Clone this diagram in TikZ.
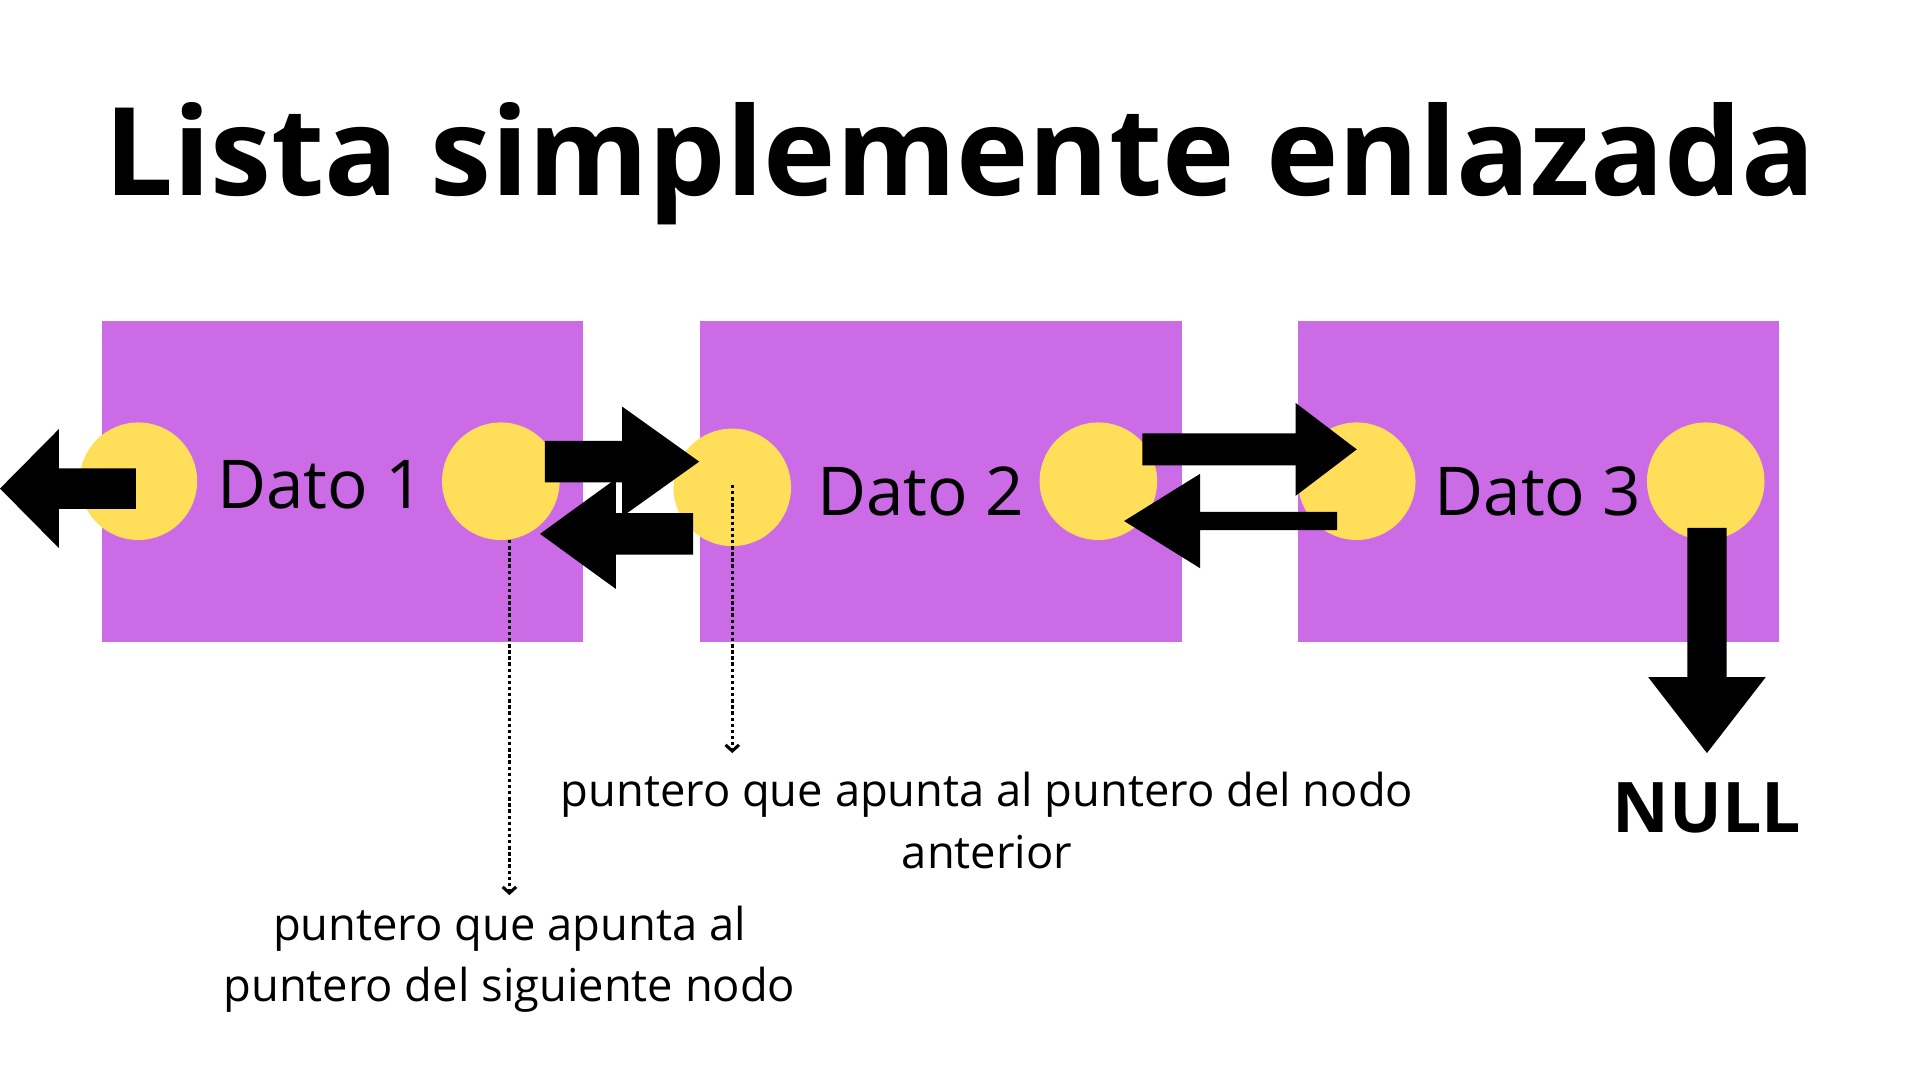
\documentclass[tikz,border=0pt]{standalone}
\usepackage{fontspec}
\setmainfont{Open Sans}
\usetikzlibrary{calc,arrows.meta}
\definecolor{boxpurple}{HTML}{CB6CE6}
\definecolor{dotyellow}{HTML}{FFDE59}
% horizontal block arrow: #1 start, #2 tip, #3 shaft half width, #4 head half width, #5 signed head length
\newcommand\hblockarrow[5]{%
  \fill[black] ($(#1)+(0,-#3)$) -- ($(#2)+(-#5,-#3)$) -- ($(#2)+(-#5,-#4)$) -- (#2)
    -- ($(#2)+(-#5,#4)$) -- ($(#2)+(-#5,#3)$) -- ($(#1)+(0,#3)$) -- cycle;}
\begin{document}
\begin{tikzpicture}[x=1pt,y=-1pt,
  databox/.style={fill=boxpurple},
  ptr/.style={circle,fill=dotyellow,minimum size=96pt,inner sep=0pt},
  datatext/.style={anchor=base,font=\fontsize{55}{60}\selectfont},
  note/.style={anchor=base,align=center,font=\fontsize{37}{50}\selectfont},
  dotarrow/.style={line width=2.8pt,dash pattern=on 2.8pt off 2.2pt,
    -{Straight Barb[length=5pt,width=11pt,line width=2.5pt]}}]
\useasboundingbox (0,0) rectangle (1568,882);
\fill[white] (0,0) rectangle (1568,882);

% title
\node[anchor=base,font=\fontsize{100}{110}\selectfont\bfseries] (title) at (784,160) {Lista simplemente enlazada};

% boxes
\fill[databox] (83,262) rectangle (476,524);
\fill[databox] (572,262) rectangle (965,524);
\fill[databox] (1060,262) rectangle (1453,524);

% pointer circles
\node[ptr] (c1l) at (113,393) {};
\node[ptr] (c1r) at (409,393) {};
\node[ptr] (c2l) at (598,398) {};
\node[ptr] (c2r) at (897,393) {};
\node[ptr] (c3l) at (1108,393) {};
\node[ptr] (c3r) at (1393,393) {};

% data texts
\node[datatext] (d1) at (262,415) {Dato 1};
\node[datatext] (d2) at (752,421) {Dato 2};
\node[datatext] (d3) at (1256,421) {Dato 3};

% block arrows
\coordinate (a1s) at (111,399);  \coordinate (a1t) at (0,399);
\coordinate (a2s) at (445,377);  \coordinate (a2t) at (571,377);
\coordinate (a3s) at (566,436);  \coordinate (a3t) at (441,436);
\coordinate (a4s) at (933,367);  \coordinate (a4t) at (1108,367);
\coordinate (a5s) at (1092,425.5); \coordinate (a5t) at (918,425.5);
\hblockarrow{a1s}{a1t}{16.5}{48.5}{-48}
\hblockarrow{a2s}{a2t}{17}{45}{63}
\hblockarrow{a3s}{a3t}{17}{45}{-62}
\hblockarrow{a4s}{a4t}{13}{38}{50}
\hblockarrow{a5s}{a5t}{7.5}{38.5}{-62}
% down arrow to NULL
\coordinate (a6s) at (1394,431); \coordinate (a6t) at (1394,615);
\fill[black] ($(a6s)+(-16,0)$) -- ($(a6t)+(-16,-62)$) -- ($(a6t)+(-48,-62)$) -- (a6t)
  -- ($(a6t)+(48,-62)$) -- ($(a6t)+(16,-62)$) -- ($(a6s)+(16,0)$) -- cycle;

\node[anchor=base,font=\fontsize{57}{60}\selectfont\bfseries] (null) at (1394,680) {NULL};

% dotted pointer annotations
\coordinate (p1s) at (416,441); \coordinate (p1e) at (416,731);
\coordinate (p2s) at (598,396); \coordinate (p2e) at (598,615);
\draw[dotarrow] (p1s) -- (p1e);
\draw[dotarrow] (p2s) -- (p2e);

\node[note] (n2) at (806,709) {puntero que apunta al puntero del nodo\\anterior};
\node[note] (n1) at (416,818) {puntero que apunta al\\puntero del siguiente nodo};
\end{tikzpicture}
\end{document}
